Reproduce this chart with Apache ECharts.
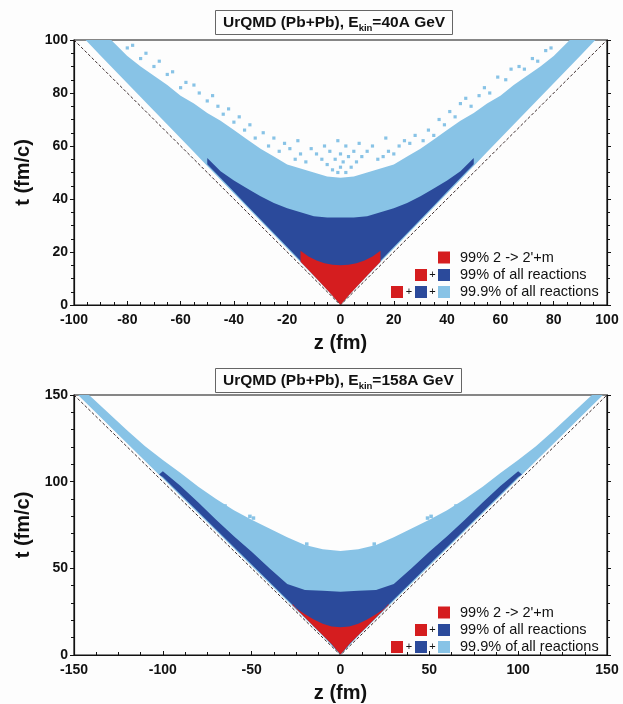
<!DOCTYPE html>
<html>
<head>
<meta charset="utf-8">
<script src="https://cdn.jsdelivr.net/npm/echarts@6/dist/echarts.min.js"></script>
<style>
  html, body { margin: 0; padding: 0; background: #fdfdfd; }
  #chart { width: 623px; height: 704px; }
</style>
</head>
<body>
<div id="chart"></div>
<script>
// ---- 40A GeV panel: reaction-zone boundaries as functions of |z| (fm) ----
const zTop        = [0, 5, 10, 15, 20, 25, 30, 35, 40, 45, 50, 55, 60, 65, 70, 75, 80, 85, 90, 95, 100];
const coneEdgeTop = [0, 5.7, 10.9, 16.1, 21.3, 26.5, 31.7, 36.9, 42.1, 47.3, 52.5, 57.7, 62.9, 68.1, 73.3, 78.5, 83.7, 88.9, 94.1, 99.3, 104.5];
const lightHiTop  = [48, 48.5, 50, 51.5, 53, 56, 59, 62.5, 66, 69.5, 72.5, 76, 79, 83, 86.5, 90, 94, 99, 104, 108, 112];
const zDarkTop    = [0, 5, 10, 15, 20, 25, 30, 35, 40, 45, 50];
const darkLoTop   = [0.6, 6.3, 11.5, 16.7, 21.9, 27.1, 32.3, 37.5, 42.7, 47.9, 53.1];
const darkHiTop   = [33, 33, 33.5, 35, 36.5, 38.5, 41, 44, 47, 50.5, 55.5];
const zRedTop     = [0, 3, 6, 9, 12, 15];
const redLoTop    = [0, 3.5, 6.8, 10, 13.2, 16.3];
const redHiTop    = [15, 15.2, 15.8, 16.8, 18.3, 20.5];
// isolated 99.9% cells above the solid zone, [z, t]
const specklesTop = [
  [-1, 50], [2, 50], [0, 52], [-3, 51], [4, 52], [-5, 53], [1, 54], [6, 54], [-2, 55], [3, 56],
  [-7, 55], [8, 56], [0, 57], [-4, 58], [5, 58], [-9, 57], [10, 58], [2, 60], [-6, 60], [7, 61],
  [-1, 62], [-11, 59], [12, 60],
  [-13, 54], [14, 55], [-15, 57], [16, 56], [-17, 55], [18, 58], [-19, 59], [20, 57], [-21, 61],
  [22, 60], [-23, 58], [24, 62], [-25, 63], [26, 61], [-27, 60], [28, 64], [-16, 62], [17, 63], [-29, 65],
  [31, 62], [-32, 63], [33, 66], [-34, 68], [35, 64], [-36, 66], [37, 70], [-38, 71], [39, 68], [-40, 69],
  [41, 73], [-42, 74], [43, 71], [-44, 72], [45, 76], [-46, 75], [47, 78], [-48, 79], [49, 75], [-50, 77],
  [52, 79], [-53, 80], [54, 82], [-55, 83], [56, 80], [-58, 84], [59, 86], [-60, 82], [62, 85], [-63, 88],
  [64, 89], [-65, 87], [67, 90], [-68, 92], [69, 89], [-70, 90], [72, 93], [-73, 95], [74, 92], [-75, 93],
  [77, 96], [-78, 98], [79, 97], [-80, 97]
];

// ---- 158A GeV panel ----
const zBot        = [0, 10, 20, 30, 40, 50, 60, 70, 80, 90, 100, 110, 120, 130, 140, 150];
const coneEdgeBot = [0, 10.9, 21, 31.1, 41.2, 51.3, 61.4, 71.5, 81.6, 91.7, 101.8, 111.9, 122, 132.1, 142.2, 152.3];
const lightHiBot  = [60, 61, 63.5, 68, 73, 78, 83.5, 90, 97, 105, 112.5, 120.5, 129.5, 139, 148.5, 158];
const zDarkBot    = [0, 10, 20, 30, 40, 50, 60, 70, 80, 90, 100, 102];
const darkLoBot   = [0.5, 11.8, 21.9, 32, 42.1, 52.2, 62.3, 72.4, 82.5, 92.6, 102.7, 104];
const darkHiBot   = [36.5, 37, 37.5, 41, 50, 59.5, 68.5, 78, 88, 97.5, 106, 104.3];
const zRedBot     = [0, 5, 10, 15, 20, 25, 27];
const redLoBot    = [0.3, 6.3, 11.4, 16.5, 21.6, 26.7, 28.7];
const redHiBot    = [16, 16.5, 18, 20.5, 23.5, 27, 29.5];
const specklesBot = [[-51, 80], [-49, 79], [49, 79], [51, 80], [-19, 64], [19, 64], [-65, 86], [65, 86]];

// light cones t = |z|
const coneTop = [[-100, 100], [0, 0], [100, 100]];
const coneBot = [[-150, 150], [0, 0], [150, 150]];

const xTicksTop = { min: -100, max: 100, interval: 20 };
const yTicksTop = { min: 0, max: 100, interval: 20 };
const xTicksBot = { min: -150, max: 150, interval: 50 };
const yTicksBot = { min: 0, max: 150, interval: 50 };

const titles = ['UrQMD (Pb+Pb), E{s|kin}=40A GeV', 'UrQMD (Pb+Pb), E{s|kin}=158A GeV'];
const legendLabels = ["99% 2 -> 2'+m", '99% of all reactions', '99.9% of all reactions'];

const RED = '#d51d1f', DARK = '#2b4a9b', LIGHT = '#88c3e6';
const FONT = 'Liberation Sans, Arial, sans-serif';

// Symmetric band: upper boundary left->right, lower boundary right->left
function bandPolygon(zs, lo, hi) {
  const pts = [];
  for (let i = zs.length - 1; i >= 0; i--) pts.push([-zs[i], hi[i]]);
  for (let i = 1; i < zs.length; i++) pts.push([zs[i], hi[i]]);
  for (let i = zs.length - 1; i >= 1; i--) pts.push([zs[i], lo[i]]);
  pts.push([0, lo[0]]);
  for (let i = 1; i < zs.length; i++) pts.push([-zs[i], lo[i]]);
  return pts;
}

function bandSeries(name, gi, zs, lo, hi, color) {
  const pts = bandPolygon(zs, lo, hi);
  return {
    type: 'custom', name, xAxisIndex: gi, yAxisIndex: gi * 2, clip: true, silent: true,
    data: pts,
    renderItem(params, api) {
      if (params.dataIndex !== 0) return null;
      return { type: 'polygon', shape: { points: pts.map(p => api.coord(p)) }, style: { fill: color } };
    }
  };
}

function cellSeries(gi, cells, w, h, color) {
  return {
    type: 'custom', xAxisIndex: gi, yAxisIndex: gi * 2, clip: true, silent: true,
    data: cells,
    renderItem(params, api) {
      const c = api.coord([api.value(0) - w / 2, api.value(1) + h / 2]);
      const s = api.size([w, h]);
      return { type: 'rect', shape: { x: c[0], y: c[1], width: s[0], height: s[1] }, style: { fill: color } };
    }
  };
}

function coneSeries(gi, data) {
  return {
    type: 'line', xAxisIndex: gi, yAxisIndex: gi * 2, data, symbol: 'none', silent: true, z: 5,
    lineStyle: { color: '#3b2b2b', width: 1, type: [3, 2] }
  };
}

function xAxisDef(gi, t, minorSplit) {
  return {
    type: 'value', gridIndex: gi, min: t.min, max: t.max, interval: t.interval,
    name: 'z (fm)', nameLocation: 'middle', nameGap: 28,
    nameTextStyle: { fontFamily: FONT, fontWeight: 'bold', fontSize: 20, color: '#111' },
    axisLine: { show: true, onZero: false, lineStyle: { color: '#111', width: 1.2 } },
    axisTick: { show: true, inside: true, length: 4, lineStyle: { color: '#111' } },
    minorTick: { show: true, splitNumber: minorSplit, length: 3, lineStyle: { color: '#111' } },
    axisLabel: { fontFamily: FONT, fontWeight: 'bold', fontSize: 14, color: '#111', margin: 8 },
    splitLine: { show: false }
  };
}

function yAxesDef(gi, t, minorSplit) {
  return [{
    type: 'value', gridIndex: gi, min: t.min, max: t.max, interval: t.interval,
    name: 't (fm/c)', nameLocation: 'middle', nameGap: 40,
    nameTextStyle: { fontFamily: FONT, fontWeight: 'bold', fontSize: 20, color: '#111' },
    axisLine: { show: true, onZero: false, lineStyle: { color: '#111', width: 1.2 } },
    axisTick: { show: true, inside: false, length: 4, lineStyle: { color: '#111' } },
    minorTick: { show: true, splitNumber: minorSplit, length: 3, lineStyle: { color: '#111' } },
    axisLabel: { fontFamily: FONT, fontWeight: 'bold', fontSize: 14, color: '#111', margin: 6 },
    splitLine: { show: false }
  }, {
    type: 'value', gridIndex: gi, position: 'right', min: t.min, max: t.max, interval: t.interval,
    axisLine: { show: true, onZero: false, lineStyle: { color: '#111', width: 1.2 } },
    axisTick: { show: true, inside: false, length: 4, lineStyle: { color: '#111' } },
    minorTick: { show: true, splitNumber: minorSplit, length: 3, lineStyle: { color: '#111' } },
    axisLabel: { show: false },
    splitLine: { show: false }
  }];
}

function titleDef(text, top) {
  return {
    text, left: 215, top,
    borderColor: '#666', borderWidth: 1, padding: [3, 8, 2, 8],
    backgroundColor: '#fdfdfd',
    textStyle: {
      fontFamily: FONT, fontWeight: 'bold', fontSize: 15.5, color: '#111', lineHeight: 20,
      rich: { s: { fontFamily: FONT, fontWeight: 'bold', fontSize: 9.5, color: '#111', verticalAlign: 'bottom', lineHeight: 11 } }
    }
  };
}

// Legend block: composite colour keys followed by the labels
function legendGraphic(rowY) {
  const els = [];
  const sq = (x, y, c) => els.push({ type: 'rect', shape: { x, y: y - 6, width: 12, height: 12 }, style: { fill: c } });
  const plus = (x, y) => els.push({ type: 'text', x, y, style: { text: '+', fontFamily: FONT, fontSize: 11, fill: '#111', align: 'center', verticalAlign: 'middle' } });
  const label = (y, s) => els.push({ type: 'text', x: 460, y, style: { text: s, fontFamily: FONT, fontSize: 14.5, fill: '#111', align: 'left', verticalAlign: 'middle' } });
  sq(438, rowY[0], RED); label(rowY[0], legendLabels[0]);
  sq(415, rowY[1], RED); plus(432.5, rowY[1]); sq(438, rowY[1], DARK); label(rowY[1], legendLabels[1]);
  sq(391, rowY[2], RED); plus(409, rowY[2]); sq(415, rowY[2], DARK); plus(432.5, rowY[2]); sq(438, rowY[2], LIGHT); label(rowY[2], legendLabels[2]);
  return els;
}

const chart = echarts.init(document.getElementById('chart'), null, { renderer: 'canvas' });
chart.setOption({
  backgroundColor: '#fdfdfd',
  animation: false,
  title: [titleDef(titles[0], 10), titleDef(titles[1], 368)],
  grid: [
    { left: 74, top: 40, width: 533, height: 265, show: true, borderColor: '#111', borderWidth: 1.2, backgroundColor: 'transparent' },
    { left: 74, top: 395, width: 533, height: 263, show: true, borderColor: '#111', borderWidth: 1.2, backgroundColor: 'transparent' }
  ],
  xAxis: [xAxisDef(0, xTicksTop, 4), xAxisDef(1, xTicksBot, 4)],
  yAxis: [...yAxesDef(0, yTicksTop, 4), ...yAxesDef(1, yTicksBot, 5)],
  series: [
    bandSeries('99.9% of all reactions', 0, zTop, coneEdgeTop, lightHiTop, LIGHT),
    cellSeries(0, specklesTop, 1.2, 1.2, LIGHT),
    bandSeries('99% of all reactions', 0, zDarkTop, darkLoTop, darkHiTop, DARK),
    bandSeries("99% 2 -> 2'+m", 0, zRedTop, redLoTop, redHiTop, RED),
    coneSeries(0, coneTop),
    bandSeries('99.9% of all reactions', 1, zBot, coneEdgeBot, lightHiBot, LIGHT),
    cellSeries(1, specklesBot, 2, 2, LIGHT),
    bandSeries('99% of all reactions', 1, zDarkBot, darkLoBot, darkHiBot, DARK),
    bandSeries("99% 2 -> 2'+m", 1, zRedBot, redLoBot, redHiBot, RED),
    coneSeries(1, coneBot)
  ],
  graphic: [...legendGraphic([257.5, 275, 292]), ...legendGraphic([612.5, 630, 647])]
});
</script>
</body>
</html>
